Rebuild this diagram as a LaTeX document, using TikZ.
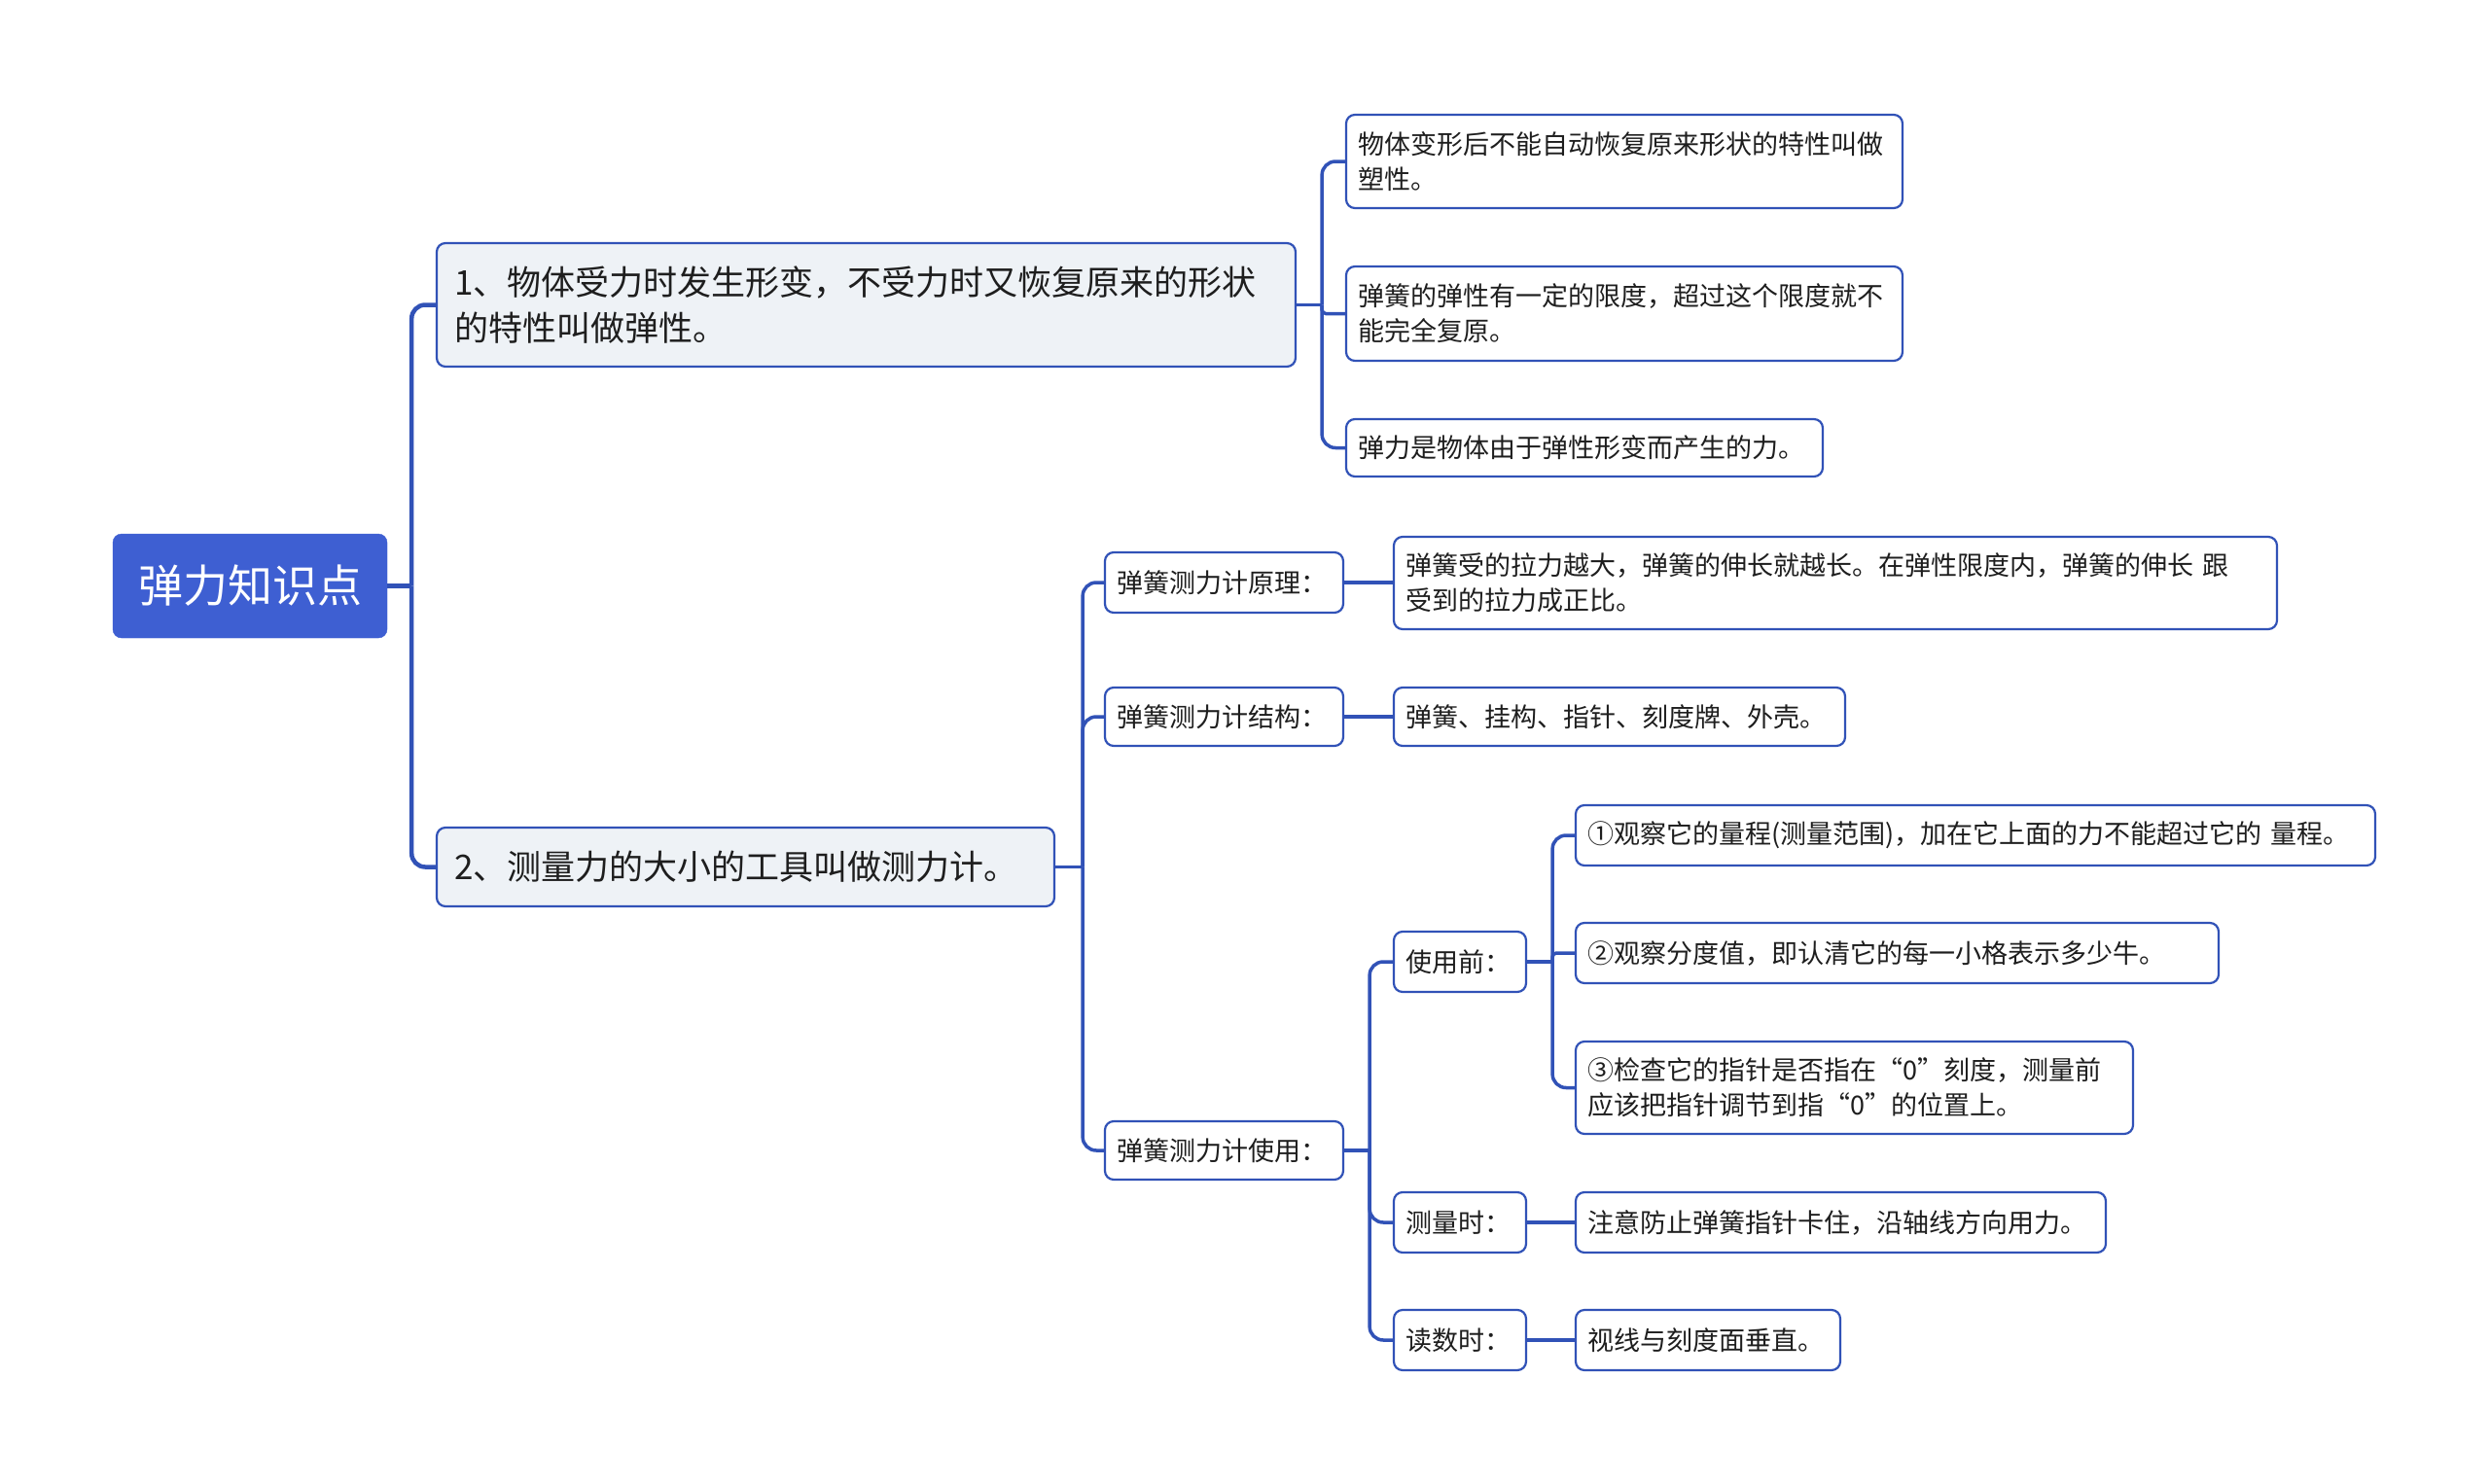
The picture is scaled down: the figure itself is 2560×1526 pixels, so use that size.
\documentclass[tikz,border=0pt]{standalone}
\usepackage{fontspec}
\newfontfamily\cjk{Noto Sans CJK SC}
\usetikzlibrary{calc}
\definecolor{lineblue}{HTML}{3152B7}
\definecolor{rootblue}{HTML}{3E5FD2}
\definecolor{lightfill}{HTML}{EEF2F6}
\definecolor{txt}{HTML}{1E1E1E}
\begin{document}
\begin{tikzpicture}[x=1pt,y=-1pt,
 box/.style={draw=lineblue, line width=2.2pt, rounded corners=9pt, fill=white, inner xsep=12pt, inner ysep=0pt, align=left, text=txt, font=\cjk\fontsize{27}{36}\selectfont},
 big/.style={box, fill=lightfill, inner xsep=18pt, font=\cjk\fontsize{35}{47}\selectfont},
 rootbox/.style={fill=rootblue, draw=rootblue, rounded corners=9pt, text=white, font=\cjk\fontsize{46}{56}\selectfont, minimum width=282pt, minimum height=107pt, inner sep=0pt},
 conn/.style={draw=lineblue, line width=3.5pt},
 rconn/.style={conn, rounded corners=14pt},
 sconn/.style={conn, rounded corners=4pt},
 mainconn/.style={draw=lineblue, line width=4.5pt},
 rmainconn/.style={mainconn, rounded corners=14pt}
]
\fill[white] (0,0) rectangle (2560,1526);
\useasboundingbox (0,0) rectangle (2560,1526);

\node[rootbox] (root) at (257,602.5) {弹力知识点};
\node[big, text width=847pt, minimum height=127pt] (A) at (890.5,313.5) {1、物体受力时发生形变，不受力时又恢复原来的形状\\的特性叫做弹性。};
\node[big, text width=599pt, minimum height=81pt] (B) at (766.5,891.5) {2、测量力的大小的工具叫做测力计。};

\node[box, text width=548pt, minimum height=96pt] (A1) at (1670,166) {物体变形后不能自动恢复原来形状的特性叫做\\塑性。};
\node[box, text width=548pt, minimum height=97pt] (A2) at (1670,322.5) {弹簧的弹性有一定的限度，超过这个限度就不\\能完全复原。};
\node[box, text width=466pt, minimum height=59pt] (A3) at (1629,460.5) {弹力是物体由于弹性形变而产生的力。};

\node[box, text width=221pt, minimum height=62pt] (B1) at (1258.5,599) {弹簧测力计原理：};
\node[box, text width=884pt, minimum height=95pt] (B1a) at (1887,599.5) {弹簧受的拉力越大，弹簧的伸长就越长。在弹性限度内，弹簧的伸长 跟\\受到的拉力成正比。};
\node[box, text width=221pt, minimum height=60pt] (B2) at (1258.5,737) {弹簧测力计结构：};
\node[box, text width=440pt, minimum height=60pt] (B2a) at (1665,737) {弹簧、挂构、指针、刻度牌、外壳。};
\node[box, text width=221pt, minimum height=60pt] (B3) at (1258.5,1183) {弹簧测力计使用：};

\node[box, text width=112pt, minimum height=62pt] (C1) at (1501,989) {使用前：};
\node[box, text width=798pt, minimum height=62pt] (C1a) at (2031,859) {①观察它的量程(测量范围)，加在它上面的力不能超过它的 量程。};
\node[box, text width=637pt, minimum height=62pt] (C1b) at (1950.5,980) {②观察分度值，即认清它的每一小格表示多少牛。};
\node[box, text width=549pt, minimum height=95pt] (C1c) at (1906.5,1118.5) {③检查它的指针是否指在“0”刻度，测量前\\应该把指针调节到指“0”的位置上。};
\node[box, text width=112pt, minimum height=62pt] (C2) at (1501,1257) {测量时：};
\node[box, text width=521pt, minimum height=62pt] (C2a) at (1892.5,1257) {注意防止弹簧指针卡住，沿轴线方向用力。};
\node[box, text width=112pt, minimum height=62pt] (C3) at (1501,1378) {读数时：};
\node[box, text width=248pt, minimum height=62pt] (C3a) at (1756,1378) {视线与刻度面垂直。};

% junctions
\coordinate (jR) at ($(root.east)+(25,0)$);
\coordinate (jA) at ($(A.east)+(26,0)$);
\coordinate (jB) at ($(B.east)+(28,0)$);
\coordinate (jB3) at ($(B3.east)+(26,0)$);
\coordinate (jC1) at ($(C1.east)+(26,0)$);

\draw[mainconn] (root.east) -- (jR);
\draw[rmainconn] (jR) |- (A.west);
\draw[rmainconn] (jR) |- (B.west);

\draw[conn] (A.east) -- (jA);
\draw[rconn] (jA) |- (A1.west);
\draw[sconn] (jA) |- (A2.west);
\draw[rconn] (jA) |- (A3.west);

\draw[conn] (B.east) -- (jB);
\draw[rconn] (jB) |- (B1.west);
\draw[rconn] (jB) |- (B2.west);
\draw[rconn] (jB) |- (B3.west);

\draw[conn] (B1.east) -- (B1.east -| B1a.west);
\draw[conn] (B2.east) -- (B2.east -| B2a.west);

\draw[conn] (B3.east) -- (jB3);
\draw[rconn] (jB3) |- (C1.west);
\draw[rconn] (jB3) |- (C2.west);
\draw[rconn] (jB3) |- (C3.west);

\draw[conn] (C1.east) -- (jC1);
\draw[rconn] (jC1) |- (C1a.west);
\draw[sconn] (jC1) |- (C1b.west);
\draw[rconn] (jC1) |- (C1c.west);

\draw[conn] (C2.east) -- (C2.east -| C2a.west);
\draw[conn] (C3.east) -- (C3.east -| C3a.west);
\end{tikzpicture}
\end{document}
